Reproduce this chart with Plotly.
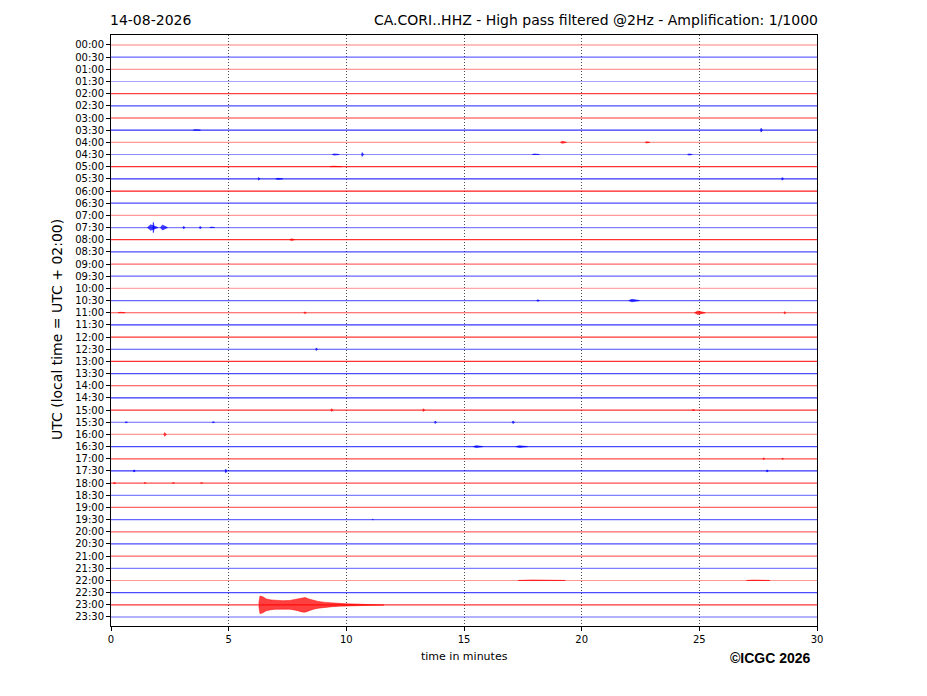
import plotly.graph_objects as go

# ---------------- data ----------------
row_labels = [f"{h:02d}:{m:02d}" for h in range(24) for m in (0, 30)]
row_colors = ["red" if m == 0 else "blue" for h in range(24) for m in (0, 30)]
row_opacity = [0.5, 0.6, 0.4, 0.35, 0.75, 0.7, 0.8, 0.8, 0.4, 0.45, 0.8, 0.8,
               0.9, 0.7, 0.4, 0.5, 0.8, 0.7, 0.6, 0.6, 0.35, 0.6, 0.7, 0.8,
               0.8, 0.7, 0.8, 0.7, 0.75, 0.8, 0.8, 0.6, 0.4, 0.7, 0.7, 0.8,
               0.7, 0.5, 0.6, 0.6, 0.6, 0.7, 0.6, 0.5, 0.4, 0.7, 0.8, 0.6]

# small events: row label, start minute, duration (min), half amplitude (row units)
ev_row = ["03:30", "03:30", "04:00", "04:00", "04:30", "04:30", "04:30", "04:30",
          "05:00", "05:30", "05:30", "05:30", "07:30", "07:30", "07:30", "07:30",
          "07:30", "07:30", "08:00", "10:30", "10:30", "11:00", "11:00", "11:00",
          "11:00", "12:30", "15:00", "15:00", "15:00", "15:30", "15:30", "15:30",
          "15:30", "16:00", "16:30", "16:30", "17:00", "17:00", "17:30", "17:30",
          "17:30", "18:00", "18:00", "18:00", "18:00", "19:30", "22:00", "22:00"]
ev_start = [3.5, 27.6, 19.1, 22.7, 9.4, 10.65, 24.5, 17.9,
            9.3, 6.25, 7.0, 28.5, 1.55, 1.78, 2.1, 3.05,
            3.75, 4.2, 7.6, 18.1, 22.0, 0.3, 8.2, 24.8,
            28.6, 8.7, 9.35, 13.25, 24.7, 13.75, 17.05, 0.6,
            4.3, 2.25, 15.4, 17.2, 27.7, 28.5, 0.95, 4.85,
            27.85, 0.1, 1.4, 2.6, 3.8, 11.1, 17.3, 27.0]
ev_dur = [0.3, 0.08, 0.25, 0.2, 0.3, 0.08, 0.2, 0.3,
          0.5, 0.08, 0.3, 0.08, 0.45, 0.06, 0.3, 0.1,
          0.1, 0.2, 0.2, 0.1, 0.45, 0.3, 0.1, 0.45,
          0.08, 0.08, 0.08, 0.08, 0.1, 0.08, 0.1, 0.1,
          0.1, 0.1, 0.4, 0.5, 0.08, 0.08, 0.08, 0.08,
          0.08, 0.1, 0.1, 0.1, 0.1, 0.05, 2.0, 1.0]
ev_amp = [0.04, 0.16, 0.08, 0.05, 0.05, 0.16, 0.05, 0.04,
          0.04, 0.11, 0.05, 0.11, 0.22, 0.42, 0.2, 0.09,
          0.09, 0.04, 0.07, 0.07, 0.1, 0.04, 0.07, 0.14,
          0.09, 0.11, 0.11, 0.11, 0.05, 0.11, 0.11, 0.05,
          0.05, 0.15, 0.08, 0.07, 0.07, 0.05, 0.09, 0.15,
          0.09, 0.05, 0.04, 0.04, 0.04, 0.04, 0.04, 0.03]

# the earthquake on the 23:00 line: envelope (minute, half amplitude in row units)
quake_row = "23:00"
quake_t = [6.28, 6.33, 6.45, 6.6, 6.8, 7.0, 7.3, 7.6, 7.9, 8.1, 8.25, 8.4,
           8.6, 8.8, 9.1, 9.4, 9.7, 10.0, 10.4, 10.8, 11.2, 11.6]
quake_a = [0.1, 0.72, 0.66, 0.48, 0.4, 0.36, 0.34, 0.36, 0.46, 0.58, 0.6, 0.48,
           0.36, 0.28, 0.2, 0.15, 0.11, 0.08, 0.06, 0.04, 0.03, 0.02]

x_ticks = [0, 5, 10, 15, 20, 25, 30]

# ---------------- figure ----------------
fig = go.Figure()
rgb = {"red": "255,0,0", "blue": "0,0,255"}

for i, (lab, col, op) in enumerate(zip(row_labels, row_colors, row_opacity)):
    y0 = -i
    fig.add_trace(go.Scatter(x=[0, 30], y=[y0, y0], mode="lines",
                             line=dict(color=f"rgba({rgb[col]},{op})", width=1.2),
                             hoverinfo="skip", showlegend=False))

# small events as tiny filled envelopes
for r, s, d, a in zip(ev_row, ev_start, ev_dur, ev_amp):
    i = row_labels.index(r)
    col = row_colors[i]
    y0 = -i
    xs = [s, s + d * 0.3, s + d, s + d * 0.3, s]
    ys = [y0, y0 + a, y0, y0 - a, y0]
    fig.add_trace(go.Scatter(x=xs, y=ys, mode="lines", fill="toself",
                             fillcolor=f"rgba({rgb[col]},0.7)",
                             line=dict(color=f"rgba({rgb[col]},0.7)", width=0.8),
                             hoverinfo="skip", showlegend=False))

# earthquake
qi = row_labels.index(quake_row)
qy = -qi
xs = quake_t + quake_t[::-1]
ys = [qy + a for a in quake_a] + [qy - a for a in quake_a[::-1]]
fig.add_trace(go.Scatter(x=xs, y=ys, mode="lines", fill="toself",
                         fillcolor="rgba(255,0,0,0.75)",
                         line=dict(color="rgba(255,0,0,0.85)", width=0.6),
                         hoverinfo="skip", showlegend=False))

# figure is placed inside the page's 8px body margin
W, H = 919, 688
L, T = 103, 27
PW, PH = 706, 591
fig.update_layout(
    width=W, height=H,
    margin=dict(l=L, r=W - L - PW, t=T, b=H - T - PH, pad=0),
    paper_bgcolor="white", plot_bgcolor="white",
    font=dict(family="DejaVu Sans", color="black", size=11),
    xaxis=dict(range=[0, 30], tickvals=x_ticks, ticktext=[str(v) for v in x_ticks],
               showgrid=True, gridcolor="rgba(0,0,0,0.7)", griddash="1px,2px", gridwidth=1,
               zeroline=False, showline=True, linecolor="black", linewidth=1,
               mirror=True, ticks="outside", ticklen=4, tickcolor="black",
               tickfont=dict(size=10), layer="above traces"),
    yaxis=dict(range=[-47.74, 0.82], tickvals=[-i for i in range(48)],
               ticktext=row_labels, showgrid=False, zeroline=False,
               showline=True, linecolor="black", linewidth=1, mirror=True,
               ticks="outside", ticklen=4, tickcolor="black",
               tickfont=dict(size=10)),
)

def px_x(p):
    return (p - 111) / PW

def px_y(p):
    return 1 - (p - 35) / PH

fig.add_annotation(text="14-08-2026", xref="paper", yref="paper",
                   x=px_x(108), y=px_y(20), xanchor="left", yanchor="middle",
                   showarrow=False, font=dict(size=14))
fig.add_annotation(text="CA.CORI..HHZ - High pass filtered @2Hz - Amplification: 1/1000",
                   xref="paper", yref="paper", x=px_x(820), y=px_y(20),
                   xanchor="right", yanchor="middle", showarrow=False,
                   font=dict(size=14))
fig.add_annotation(text="time in minutes", xref="paper", yref="paper",
                   x=0.5, y=px_y(656), xanchor="center", yanchor="middle",
                   showarrow=False, font=dict(size=11))
fig.add_annotation(text="UTC (local time = UTC + 02:00)", xref="paper", yref="paper",
                   x=px_x(57), y=px_y(330), textangle=-90,
                   xanchor="center", yanchor="middle", showarrow=False,
                   font=dict(size=14))
fig.add_annotation(text="<b>©ICGC 2026</b>", xref="paper", yref="paper",
                   x=px_x(770), y=px_y(658), xanchor="center", yanchor="middle",
                   showarrow=False, font=dict(size=14, family="Liberation Sans"))

fig.write_html("out.html")
